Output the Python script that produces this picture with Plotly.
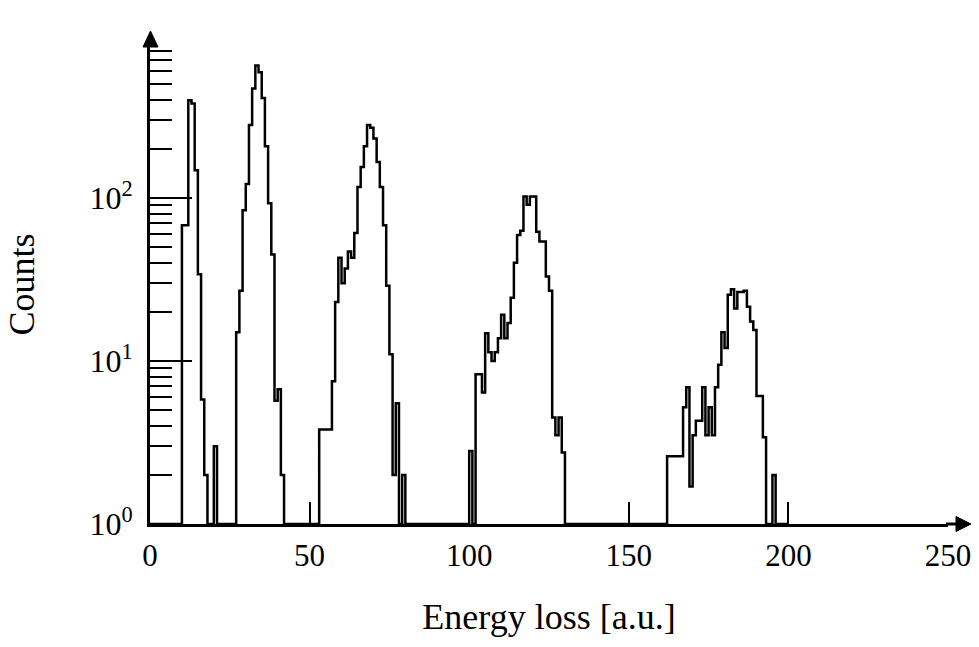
import numpy as np
import plotly.graph_objects as go

# ---------------- data ----------------
# Histogram with 1-unit bins; each group = lower edge of first bin + counts per bin
bin_width = 1
group1_start = 10
group1_counts = [68, 68, 398, 380, 148, 34, 5.8, 2, 0, 0, 3]
group2_start = 27
group2_counts = [15, 27, 84, 122, 280, 470, 650, 590, 410, 208, 93, 45, 5.7, 6.7, 2]
group3_start = 53
group3_counts = [3.8, 3.8, 3.8, 3.8, 7.5, 23, 43, 30, 37, 47, 43, 61, 117, 155,
                 208, 280, 270, 232, 166, 117, 68, 29, 11, 2, 5.5, 0, 2]
group4_start = 100
group4_counts = [2.8, 0, 8.3, 8.3, 6.4, 14.8, 11.3, 10, 11.3, 13.8, 19.2, 13.8,
                 17.1, 24.4, 40, 59.3, 63, 102, 91, 102, 102, 62, 54, 54, 33, 27,
                 4.5, 3.5, 4.5, 2.75]
group5_start = 162
group5_counts = [2.6, 2.6, 2.6, 2.6, 2.6, 5.2, 6.9, 1.7, 3.5, 4.3, 4.3, 6.9, 3.5,
                 5.2, 3.5, 6.9, 9.5, 15, 12, 25.5, 27.6, 21, 26.5, 26.5, 27, 21.5,
                 17.5, 15.5, 6.1, 6.1, 3.4, 0, 0, 2]

x_tickvals = [0, 50, 100, 150, 200, 250]
y_tickvals = [1, 10, 100]
y_ticktext = ["10<sup>0</sup>", "10<sup>1</sup>", "10<sup>2</sup>"]
y_minor = [2, 3, 4, 5, 6, 7, 8, 9, 20, 30, 40, 50, 60, 70, 80, 90,
           200, 300, 400, 500, 600, 700, 800]
x_title = "Energy loss [a.u.]"
y_title = "Counts"

# ---------------- build the step histogram ----------------
n_bins = 200
counts = np.zeros(n_bins)
for start, vals in [(group1_start, group1_counts), (group2_start, group2_counts),
                    (group3_start, group3_counts), (group4_start, group4_counts),
                    (group5_start, group5_counts)]:
    counts[start:start + len(vals)] = vals

edges = np.arange(n_bins + 1) * bin_width
y_step = np.maximum(np.append(counts, 0), 1)   # empty bins drawn on the 10^0 baseline

FONT = "Liberation Serif"

fig = go.Figure()
fig.add_trace(go.Scatter(
    x=edges, y=y_step, mode="lines",
    line=dict(shape="hv", color="black", width=2.5),
    hoverinfo="skip", showlegend=False,
))

L, R, T, B = 150, 31, 45, 123
W, H = 979, 647
plot_w = W - L - R
plot_h = H - T - B
decade_px = 163.0


def px(xp, yp):
    """pixel position -> paper coordinates (for decorations only)"""
    return (xp - L) / plot_w, (H - B - yp) / plot_h


fig.update_layout(
    width=W, height=H,
    margin=dict(l=L, r=R, t=T, b=B, pad=0),
    paper_bgcolor="white", plot_bgcolor="white",
    showlegend=False,
    xaxis=dict(
        range=[0, 250], tickvals=x_tickvals, ticks="inside", ticklen=22,
        tickwidth=2, tickcolor="black", showline=True, linewidth=3,
        linecolor="black", showgrid=False, zeroline=False,
        tickfont=dict(family=FONT, size=31, color="black"),
        ticklabelstandoff=2,
        title=dict(text=x_title, standoff=32,
                   font=dict(family=FONT, size=36, color="black")),
        automargin=False,
    ),
    yaxis=dict(
        type="log", range=[0, plot_h / decade_px],
        tickvals=y_tickvals, ticktext=y_ticktext,
        ticks="inside", ticklen=42, tickwidth=2, tickcolor="black",
        minor=dict(tickvals=y_minor, ticks="inside", ticklen=22,
                   tickwidth=2, tickcolor="black", showgrid=False),
        showline=True, linewidth=3, linecolor="black",
        showgrid=False, zeroline=False,
        tickfont=dict(family=FONT, size=32, color="black"),
        ticklabelstandoff=8,
        title=dict(text=y_title, standoff=44,
                   font=dict(family=FONT, size=36, color="black")),
        automargin=False,
    ),
)

# axis extension + arrow heads (decorations, paper coordinates)
x0, y0 = px(946, 524)
x1, _ = px(958, 524)
fig.add_shape(type="line", xref="paper", yref="paper", x0=x0, y0=y0, x1=x1, y1=y0,
              line=dict(color="black", width=3))
ta, tb, tc = px(971, 524), px(956, 516.5), px(956, 531.5)
fig.add_shape(type="path", xref="paper", yref="paper",
              path=f"M{ta[0]},{ta[1]} L{tb[0]},{tb[1]} L{tc[0]},{tc[1]} Z",
              fillcolor="black", line=dict(color="black", width=1))
ua, ub, uc = px(150.5, 31), px(143, 47), px(158, 47)
fig.add_shape(type="path", xref="paper", yref="paper",
              path=f"M{ua[0]},{ua[1]} L{ub[0]},{ub[1]} L{uc[0]},{uc[1]} Z",
              fillcolor="black", line=dict(color="black", width=1))

fig.write_html("out.html")
